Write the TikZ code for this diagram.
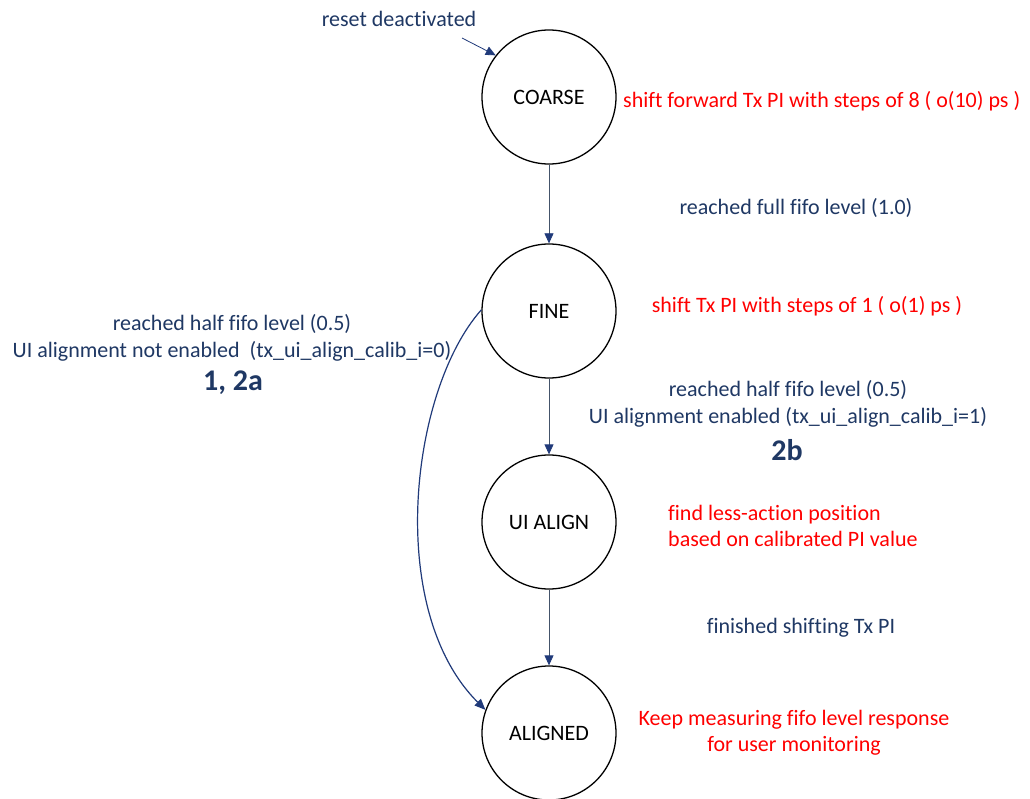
\documentclass[tikz,border=0pt]{standalone}
\usepackage{fontspec}
\setmainfont[Ligatures=NoCommon]{Carlito}
\usetikzlibrary{arrows.meta}
\definecolor{navytext}{HTML}{1F3864}
\definecolor{navyline}{HTML}{203A7A}
\definecolor{greyline}{HTML}{44546A}
\definecolor{redtext}{HTML}{FF0000}
\begin{document}
\begin{tikzpicture}[x=1pt,y=-1pt,
  state/.style={draw=black,line width=1.3pt,circle,minimum size=134pt,inner sep=0pt,font=\fontsize{22}{26}\selectfont},
  lbl/.style={text=navytext,font=\fontsize{22}{27}\selectfont,align=center,inner sep=0pt},
  act/.style={text=redtext,font=\fontsize{22}{26}\selectfont,align=left,inner sep=0pt},
  big/.style={text=navytext,font=\fontsize{30}{32}\selectfont\bfseries,inner sep=0pt},
  tr/.style={draw=greyline,line width=0.8pt,-{Triangle[width=9pt,length=10pt,color=navyline]}},
  curvetr/.style={draw=navyline,line width=1.2pt,-{Triangle[width=9pt,length=11pt]}}
]
\useasboundingbox[fill=white] (0,0) rectangle (1030,799);
\node[state] (coarse) at (549,97) {COARSE};
\node[state] (fine) at (549,311) {FINE};
\node[state] (uialign) at (549,522) {UI ALIGN};
\node[state] (aligned) at (549,733) {ALIGNED};

\coordinate (rs) at (462,38);
\node[lbl] (reset) at (399,19) {reset deactivated};
\draw[tr,draw=navyline] (rs) -- (coarse.142);

\draw[tr] (coarse) -- (fine);
\draw[tr] (fine) -- (uialign);
\draw[tr] (uialign) -- (aligned);
\draw[curvetr] (fine.179) .. controls (410,390) and (385,610) .. (aligned.160);

\node[act,anchor=west] (a1) at (623,101) {shift forward Tx PI with steps of 8 ( o(10) ps )};
\node[lbl] (t1) at (796,208) {reached full fifo level (1.0)};
\node[act] (a2) at (807,306) {shift Tx PI with steps of 1 ( o(1) ps )};
\node[lbl] (t2) at (232,338) {reached half fifo level (0.5)\\UI alignment not enabled\ \ (tx\_ui\_align\_calib\_i=0)};
\node[big] (n1) at (233,383) {1, 2a};
\node[lbl] (t3) at (788,404) {reached half fifo level (0.5)\\UI alignment enabled (tx\_ui\_align\_calib\_i=1)};
\node[big] (n2) at (787,450) {2b};
\node[act,anchor=west] (a3) at (668,526) {find less-action position\\based on calibrated PI value};
\node[lbl] (t4) at (801,628) {finished shifting Tx PI};
\node[act,align=center] (a4) at (794,733) {Keep measuring fifo level response\\for user monitoring};
\end{tikzpicture}
\end{document}
